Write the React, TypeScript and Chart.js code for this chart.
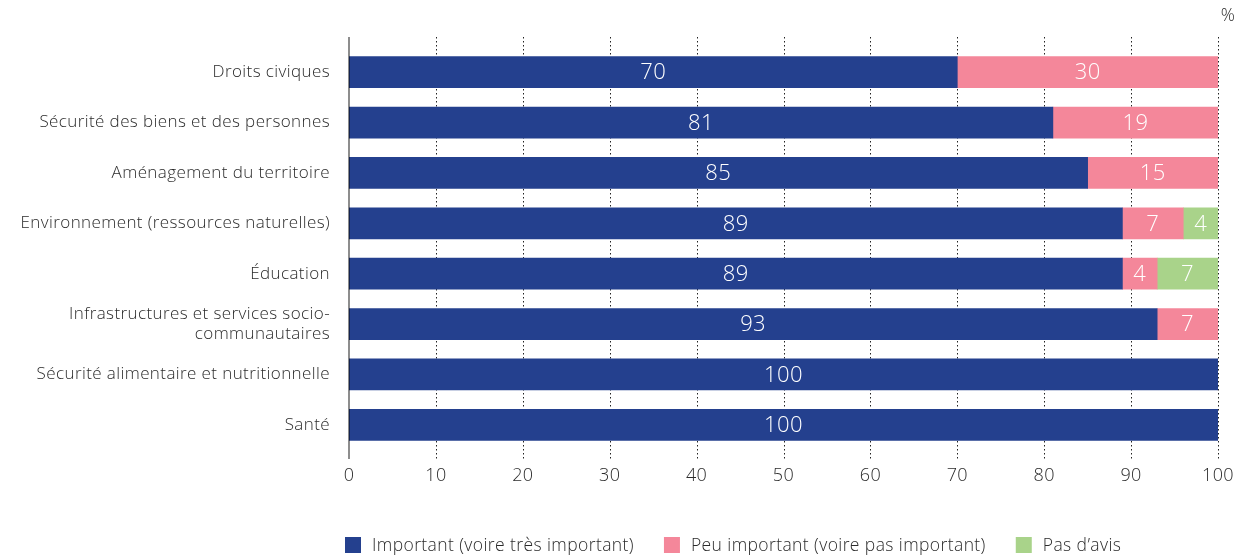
import { useEffect, useRef } from "react";
import { Chart, registerables } from "chart.js";

Chart.register(...registerables);

// Domains and the share of respondents in each opinion group (%)
const categories: (string | string[])[] = [
  "Droits civiques",
  "Sécurité des biens et des personnes",
  "Aménagement du territoire",
  "Environnement (ressources naturelles)",
  "Éducation",
  ["Infrastructures et services socio-", "communautaires"],
  "Sécurité alimentaire et nutritionnelle",
  "Santé",
];
const important = [70, 81, 85, 89, 89, 93, 100, 100];
const peuImportant = [30, 19, 15, 7, 4, 7, 0, 0];
const pasDAvis = [0, 0, 0, 4, 7, 0, 0, 0];

const seriesLabels = [
  "Important (voire très important)",
  "Peu important (voire pas important)",
  "Pas d’avis",
];
const seriesColors = ["#24408e", "#f4879a", "#a9d38a"];
const xMin = 0;
const xMax = 100;
const xStep = 10;
const unitLabel = "%";

const FONT = "'Open Sans', Lato, sans-serif";
const WEIGHT = 300;
const TEXT = "#2b2b2b";
const SPACING = "0.4px";

// Slightly open tracking for every text drawn on the canvas
const trackingPlugin = {
  id: "tracking",
  beforeDraw(chart: any) {
    chart.ctx.letterSpacing = SPACING;
  },
};

// Dotted vertical guides and the solid zero axis, reaching a little past the plot
const guidesPlugin = {
  id: "guides",
  beforeDatasetsDraw(chart: any) {
    const { ctx, chartArea, scales } = chart;
    const top = chartArea.top - 10;
    const bottom = chartArea.bottom + 9;
    ctx.save();
    ctx.strokeStyle = "#222";
    ctx.lineWidth = 1;
    ctx.setLineDash([1.5, 2.5]);
    scales.x.ticks.forEach((t: any) => {
      if (t.value === xMin) return;
      const x = Math.round(scales.x.getPixelForValue(t.value)) + 0.5;
      ctx.beginPath();
      ctx.moveTo(x, top);
      ctx.lineTo(x, bottom);
      ctx.stroke();
    });
    ctx.restore();
  },
  afterDatasetsDraw(chart: any) {
    const { ctx, chartArea, scales } = chart;
    const x = scales.x.getPixelForValue(xMin);
    ctx.save();
    ctx.strokeStyle = "rgba(0,0,0,0.6)";
    ctx.lineWidth = 1.5;
    ctx.beginPath();
    ctx.moveTo(x, chartArea.top - 10);
    ctx.lineTo(x, chartArea.bottom + 9);
    ctx.stroke();
    ctx.restore();
  },
};

// White value labels centred in each segment
const valueLabelsPlugin = {
  id: "valueLabels",
  afterDatasetsDraw(chart: any) {
    const { ctx } = chart;
    ctx.save();
    ctx.fillStyle = "#ffffff";
    ctx.font = `${WEIGHT} 22px ${FONT}`;
    ctx.textAlign = "center";
    ctx.textBaseline = "middle";
    chart.data.datasets.forEach((ds: any, di: number) => {
      const meta = chart.getDatasetMeta(di);
      meta.data.forEach((el: any, i: number) => {
        const v = ds.data[i];
        if (!v) return;
        const { x, base, y } = el.getProps(["x", "base", "y"], true);
        ctx.fillText(String(v), (x + base) / 2, y + 1);
      });
    });
    ctx.restore();
  },
};

// Unit mark and legend row under the axis
const extrasPlugin = {
  id: "extras",
  afterDraw(chart: any) {
    const { ctx, chartArea } = chart;
    ctx.save();
    ctx.fillStyle = TEXT;
    ctx.font = `${WEIGHT} 17.5px ${FONT}`;
    ctx.textAlign = "center";
    ctx.textBaseline = "middle";
    ctx.fillText(unitLabel, chartArea.right + 10, 16);

    ctx.textAlign = "left";
    let x = chartArea.left - 4;
    const y = 545;
    chart.data.datasets.forEach((ds: any) => {
      ctx.fillStyle = ds.backgroundColor;
      ctx.fillRect(x, y - 8, 16, 16);
      ctx.fillStyle = TEXT;
      ctx.fillText(ds.label, x + 27, y + 1);
      x += 27 + ctx.measureText(ds.label).width + 30;
    });
    ctx.restore();
  },
};

export default function App() {
  const canvasRef = useRef<HTMLCanvasElement | null>(null);

  useEffect(() => {
    if (!canvasRef.current) return;
    const values = [important, peuImportant, pasDAvis];
    const chart = new Chart(canvasRef.current, {
      type: "bar",
      data: {
        labels: categories,
        datasets: values.map((data, i) => ({
          label: seriesLabels[i],
          data,
          backgroundColor: seriesColors[i],
          borderWidth: 0,
          barThickness: 31,
        })),
      },
      options: {
        indexAxis: "y",
        responsive: false,
        animation: false,
        devicePixelRatio: 1,
        layout: { padding: { top: 47, right: 34, left: 0, bottom: 0 } },
        plugins: {
          legend: { display: false },
          tooltip: { enabled: false },
        },
        scales: {
          x: {
            type: "linear",
            stacked: true,
            min: xMin,
            max: xMax,
            grid: { display: false },
            border: { display: false },
            ticks: {
              stepSize: xStep,
              color: TEXT,
              padding: 7,
              font: { family: FONT, size: 18, weight: WEIGHT },
            },
            afterFit(scale: any) {
              scale.height = 108;
            },
          },
          y: {
            type: "category",
            stacked: true,
            offset: true,
            grid: { display: false },
            border: { display: false },
            ticks: {
              color: TEXT,
              padding: 11,
              font: { family: FONT, size: 17, weight: WEIGHT, lineHeight: 1.2 },
            },
            afterFit(scale: any) {
              scale.width = 349;
            },
          },
        },
      },
      plugins: [trackingPlugin, guidesPlugin, valueLabelsPlugin, extrasPlugin],
    });
    return () => chart.destroy();
  }, []);

  return (
    <div style={{ position: "fixed", left: 0, top: 0, width: 1252, height: 558, background: "#fff" }}>
      <canvas ref={canvasRef} width={1252} height={558} style={{ width: 1252, height: 558 }} />
    </div>
  );
}
